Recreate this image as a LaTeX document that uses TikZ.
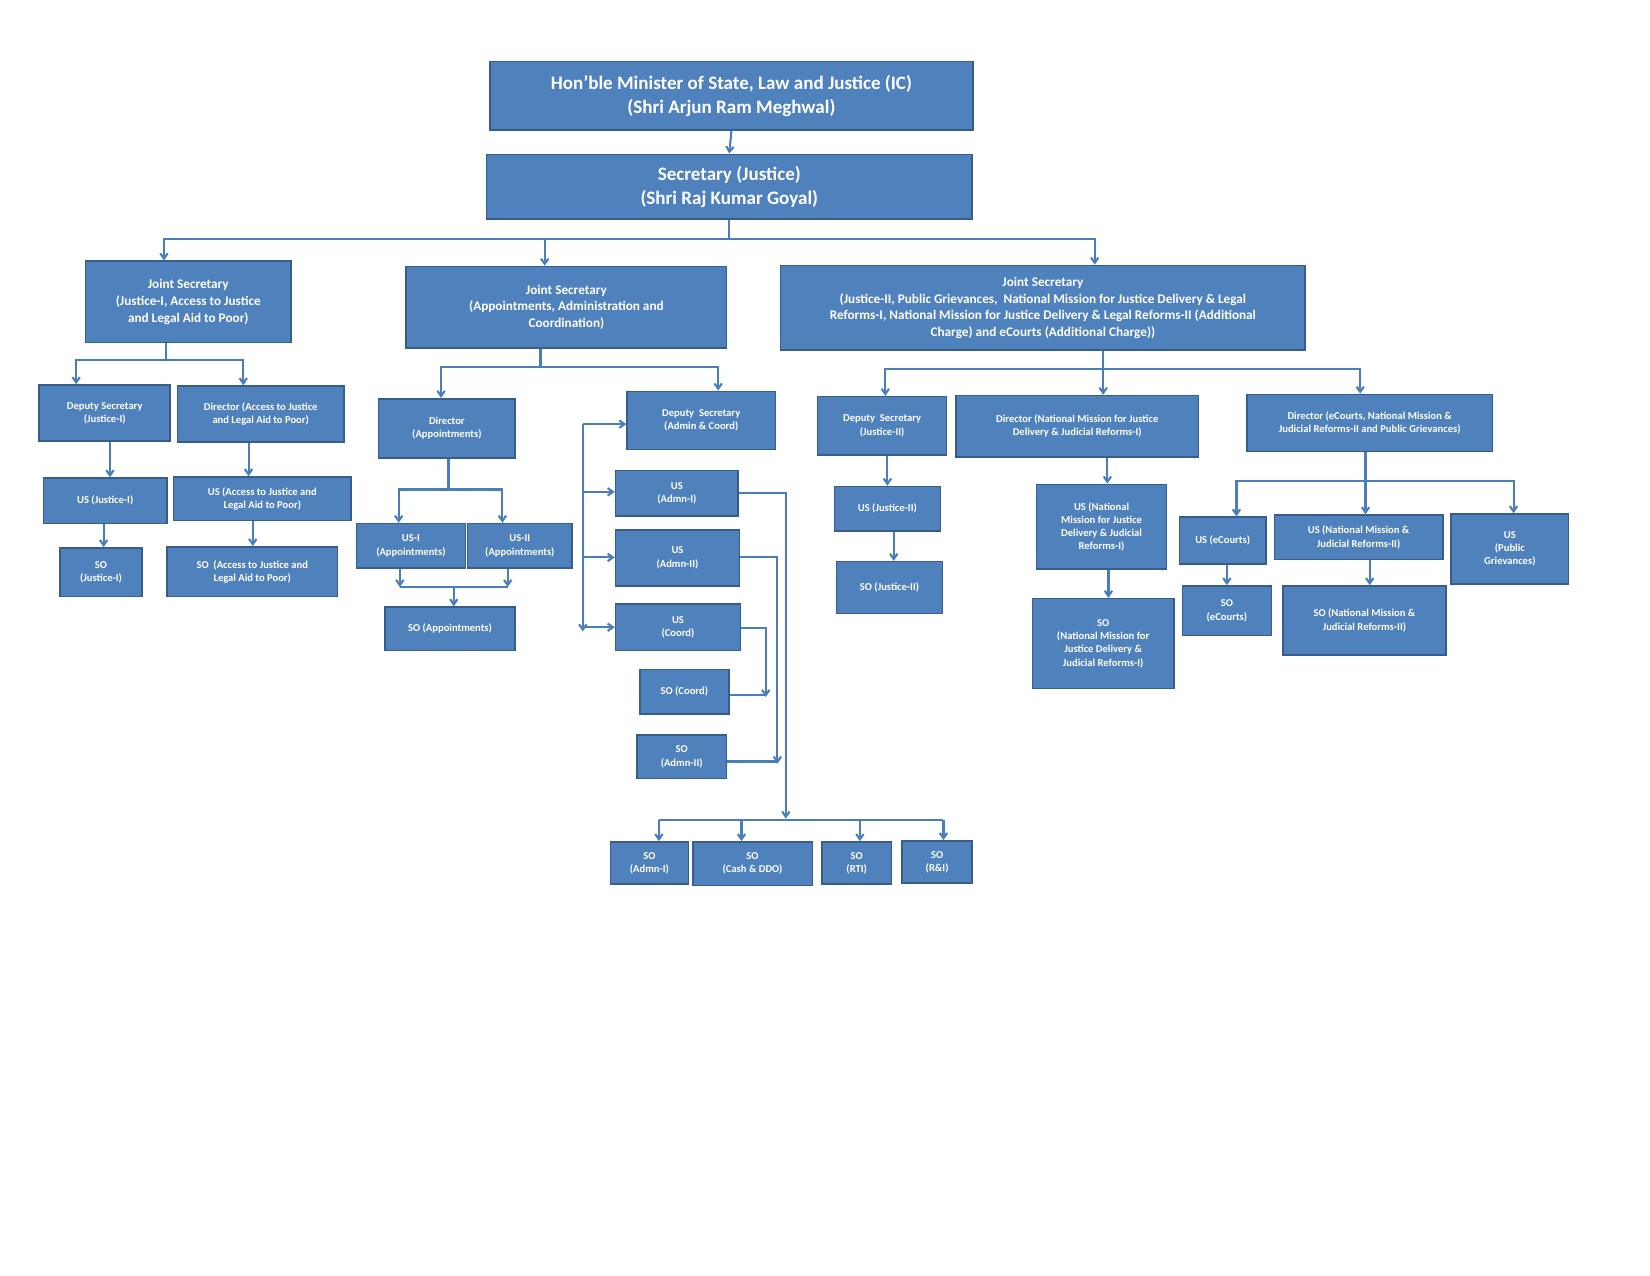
\documentclass[tikz,border=0pt]{standalone}
\usepackage{fontspec}
\setmainfont{Carlito}
\usetikzlibrary{arrows.meta}
\definecolor{BoxClr}{RGB}{79,129,189}
\definecolor{EdgeClr}{RGB}{56,93,138}
\definecolor{LineClr}{RGB}{74,126,187}
% box from corner (x1,y1) to (x2,y2)
\newcommand{\orgbox}[7][10pt]{%
  \node[box,font=\bfseries\fontsize{#1}{1.25\dimexpr#1\relax}\selectfont,
    minimum width={(#5-#3)*1pt},minimum height={(#6-#4)*1pt}]
    (#2) at ({(#3+#5)/2},{(#4+#6)/2}) {#7};}

\begin{document}
\begin{tikzpicture}[x=1pt,y=-1pt,
  box/.style={draw=EdgeClr,line width=1.5pt,fill=BoxClr,text=white,align=center,inner sep=1pt},
  link/.style={draw=LineClr,line width=2pt},
  arr/.style={link,-{Straight Barb[length=5pt,width=7pt]}}]
\useasboundingbox (0,0) rectangle (1560,1206);

\orgbox[18pt]{min}{463}{58}{920}{123}{Hon'ble Minister of State, Law and Justice (IC)\\(Shri Arjun Ram Meghwal)}
\orgbox[18pt]{sec}{460}{146}{919}{207}{Secretary (Justice)\\(Shri Raj Kumar Goyal)}
\orgbox[12.5pt]{jsA}{81}{247}{275}{324}{Joint Secretary\\(Justice-I, Access to Justice\\and Legal Aid to Poor)}
\orgbox[12.5pt]{jsB}{384}{252}{687}{329}{Joint Secretary\\(Appointments, Administration and\\Coordination)}
\orgbox[12.5pt]{jsC}{738}{251}{1234}{331}{Joint Secretary\\(Justice-II, Public Grievances,\ \ National Mission for Justice Delivery \& Legal\\Reforms-I, National Mission for Justice Delivery \& Legal Reforms-II (Additional\\Charge) and eCourts (Additional Charge))}

\orgbox{dsA}{37}{364}{161}{417}{Deputy Secretary\\(Justice-I)}
\orgbox{dirA}{168}{365}{325}{418}{Director (Access to Justice\\and Legal Aid to Poor)}
\orgbox{usA}{41}{452}{158}{495}{US (Justice-I)}
\orgbox{usAJ}{164}{451}{332}{492}{US (Access to Justice and\\Legal Aid to Poor)}
\orgbox{soA}{57}{518}{134}{564}{SO\\(Justice-I)}
\orgbox{soAJ}{158}{517}{319}{564}{SO\ \ (Access to Justice and\\Legal Aid to Poor)}

\orgbox{dirApp}{358}{377}{487}{433}{Director\\(Appointments)}
\orgbox{usI}{337}{495}{440}{537}{US-I\\(Appointments)}
\orgbox{usII}{442}{495}{541}{537}{US-II\\(Appointments)}
\orgbox{soApp}{364}{574}{487}{615}{SO (Appointments)}
\orgbox{dsAC}{593}{370}{733}{425}{Deputy\ \ Secretary\\(Admin \& Coord)}
\orgbox{usAd1}{582}{445}{698}{488}{US\\(Admn-I)}
\orgbox{usAd2}{582}{501}{699}{554}{US\\(Admn-II)}
\orgbox{usCo}{582}{571}{700}{615}{US\\(Coord)}
\orgbox{soCo}{605}{633}{689}{675}{SO (Coord)}
\orgbox{soAd2}{602}{695}{687}{736}{SO\\(Admn-II)}
\orgbox{soAd1}{577}{796}{651}{836}{SO\\(Admn-I)}
\orgbox{soCash}{655}{796}{768}{837}{SO\\(Cash \& DDO)}
\orgbox{soRTI}{777}{796}{843}{836}{SO\\(RTI)}
\orgbox{soRI}{853}{795}{919}{835}{SO\\(R\&I)}

\orgbox{dsB}{773}{375}{895}{430}{Deputy\ \ Secretary\\(Justice-II)}
\orgbox{dirN}{904}{374}{1133}{432}{Director (National Mission for Justice\\Delivery \& Judicial Reforms-I)}
\orgbox{dirE}{1179}{373}{1411}{427}{Director (eCourts, National Mission \&\\Judicial Reforms-II and Public Grievances)}
\orgbox{usB}{789}{460}{889}{502}{US (Justice-II)}
\orgbox{soB}{791}{531}{891}{580}{SO (Justice-II)}
\orgbox{usN}{980}{458}{1103}{538}{US (National\\Mission for Justice\\Delivery \& Judicial\\Reforms-I)}
\orgbox{soN}{976}{566}{1110}{651}{SO\\(National Mission for\\Justice Delivery \&\\Judicial Reforms-I)}
\orgbox{usE}{1115}{489}{1197}{533}{US (eCourts)}
\orgbox{soE}{1118}{554}{1202}{601}{SO\\(eCourts)}
\orgbox{usNM}{1205}{487}{1364}{529}{US (National Mission \&\\Judicial Reforms-II)}
\orgbox{soNM}{1213}{554}{1367}{619}{SO (National Mission \&\\Judicial Reforms-II)}
\orgbox{usPG}{1372}{486}{1483}{552}{US\\(Public\\Grievances)}

% top levels
\draw[arr] (min.south) -- (sec.north);
\draw[link] (sec.south) -- ++(0,18) coordinate (busJS);
\draw[arr] (busJS) -| (jsA.north -| 155,0);
\draw[arr] (busJS) -| (jsB.north -| 515,0);
\draw[arr] (busJS) -| (jsC.north -| 1035,0);

% Justice-I wing
\draw[link] (jsA.south -| 157,0) -- ++(0,16) coordinate (busA);
\draw[arr] (busA) -| (dsA.north -| 72,0);
\draw[arr] (busA) -| (dirA.north -| 230,0);
\draw[arr] (dsA.south -| 104,0) -- (usA.north -| 104,0);
\draw[arr] (usA.south -| 98,0) -- (soA.north -| 98,0);
\draw[arr] (dirA.south -| 235,0) -- (usAJ.north -| 235,0);
\draw[arr] (usAJ.south -| 239,0) -- (soAJ.north -| 239,0);

% appointments and admin wing
\draw[link] (jsB.south -| 511,0) -- ++(0,17) coordinate (busB);
\draw[arr] (busB) -| (dirApp.north -| 417,0);
\draw[arr] (busB) -| (dsAC.north -| 679,0);
\draw[link] (dirApp.south -| 424,0) -- ++(0,29) coordinate (busApp);
\draw[arr] (busApp) -| (usI.north -| 377,0);
\draw[arr] (busApp) -| (usII.north -| 475,0);
\coordinate (joinI) at (378,555);
\coordinate (joinII) at (480,555);
\draw[arr] (usI.south -| joinI) -- (joinI);
\draw[arr] (usII.south -| joinII) -- (joinII);
\draw[link] (joinI) -- (joinII);
\draw[arr] (429,555) -- (soApp.north -| 429,0);

\coordinate (spine) at (551,401);
\draw[arr] (spine) -- (dsAC.west |- spine);
\draw[arr] (spine) -- (551,597);
\draw[arr] (551,465) -- (usAd1.west |- 0,465);
\draw[arr] (551,527) -- (usAd2.west |- 0,527);
\draw[arr] (551,593) -- (usCo.west |- 0,593);

\draw[arr] (usAd1.east |- 0,466) -- (743,466) -- (743,774);
\coordinate (busSO) at (743,775);
\draw[link] (623,775) -- (892,775);
\draw[arr] (623,775) -- (soAd1.north -| 623,0);
\draw[arr] (701,775) -- (soCash.north -| 701,0);
\draw[arr] (813,775) -- (soRTI.north -| 813,0);
\draw[arr] (892,775) -- (soRI.north -| 892,0);
\draw[arr] (usAd2.east |- 0,527) -- (735,527) -- (735,722);
\draw[link] (soAd2.east |- 0,720) -- (735,720);
\draw[arr] (usCo.east |- 0,594) -- (724,594) -- (724,659);
\draw[link] (soCo.east |- 0,657) -- (724,657);

% Justice-II and missions wing
\draw[link] (jsC.south -| 1043,0) -- ++(0,17) coordinate (busC);
\draw[arr] (busC) -| (dsB.north -| 837,0);
\draw[arr] (busC) -- (dirN.north -| 1043,0);
\draw[arr] (busC) -| (dirE.north -| 1286,0);
\draw[arr] (dsB.south -| 839,0) -- (usB.north -| 839,0);
\draw[arr] (usB.south -| 845,0) -- (soB.north -| 845,0);
\draw[arr] (dirN.south -| 1047,0) -- (usN.north -| 1047,0);
\draw[arr] (usN.south -| 1048,0) -- (soN.north -| 1048,0);
\draw[link] (dirE.south -| 1291,0) -- ++(0,27) coordinate (busE);
\draw[arr] (busE) -| (usE.north -| 1169,0);
\draw[arr] (busE) -- (usNM.north -| 1291,0);
\draw[arr] (busE) -| (usPG.north -| 1431,0);
\draw[arr] (usE.south -| 1160,0) -- (soE.north -| 1160,0);
\draw[arr] (usNM.south -| 1295,0) -- (soNM.north -| 1295,0);
\end{tikzpicture}
\end{document}
